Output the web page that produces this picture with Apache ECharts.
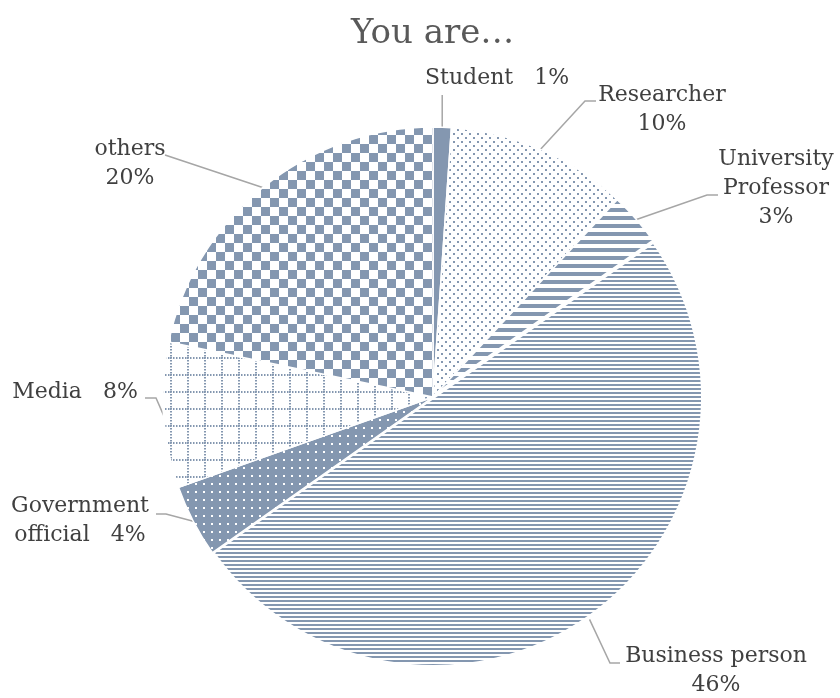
<!DOCTYPE html>
<html>
<head>
<meta charset="utf-8">
<script src="https://cdn.jsdelivr.net/npm/echarts@6/dist/echarts.min.js"></script>
<style>
  html, body { margin: 0; padding: 0; background: #fff; }
  #chart { width: 840px; height: 698px; }
</style>
</head>
<body>
<div id="chart"></div>
<script>
// ---- data ----
const titleText = 'You are…';
const categories = ['Student', 'Researcher', 'University Professor', 'Business person', 'Government official', 'Media', 'others'];
const values = [1, 10, 3, 46, 4, 8, 20];

// ---- label text layout (how each label breaks) ----
const labelNames = ['Student', 'Researcher', 'University\nProfessor', 'Business person', 'Government\nofficial', 'Media', 'others'];
const labelSeps = ['   ', '\n', '\n', '\n', '   ', '   ', '\n'];

// ---- label placement (centre of label block, end of leader line) ----
const labelSpots = [
  { x: 497, y: 78,  end: [null, 95], elbow: 0 },
  { x: 662, y: 110, end: [596, 101], elbow: -11 },
  { x: 776, y: 188, end: [718, 195], elbow: -11 },
  { x: 716, y: 671, end: [620, 663], elbow: -10 },
  { x: 80,  y: 521, end: [156, 514], elbow: 10 },
  { x: 75,  y: 392, end: [145, 398], elbow: 11 },
  { x: 130, y: 164, end: [165, 155], elbow: 0 }
];

const BASE = '#8497B0';
function makePattern(w, h, draw) {
  const c = document.createElement('canvas');
  c.width = w; c.height = h;
  const g = c.getContext('2d');
  draw(g, w, h);
  return { image: c, repeat: 'repeat' };
}
const fills = [
  BASE,
  // small sparse dots
  makePattern(8, 8, g => {
    g.fillStyle = '#fff'; g.fillRect(0, 0, 8, 8);
    g.fillStyle = BASE; g.fillRect(1, 1, 2, 2); g.fillRect(5, 5, 2, 2);
  }),
  // wide horizontal stripes
  makePattern(4, 8, g => {
    g.fillStyle = '#fff'; g.fillRect(0, 0, 4, 8);
    g.fillStyle = BASE; g.fillRect(0, 0, 4, 4);
  }),
  // narrow horizontal stripes
  makePattern(4, 4, g => {
    g.fillStyle = '#fff'; g.fillRect(0, 0, 4, 4);
    g.fillStyle = BASE; g.fillRect(0, 0, 4, 2);
  }),
  // solid with white dots
  makePattern(8, 8, g => {
    g.fillStyle = BASE; g.fillRect(0, 0, 8, 8);
    g.fillStyle = '#fff'; g.fillRect(3, 3, 2, 2);
  }),
  // dotted grid
  makePattern(17, 17, g => {
    g.fillStyle = '#fff'; g.fillRect(0, 0, 17, 17);
    g.fillStyle = BASE;
    for (let k = 0; k < 17; k += 3) {
      g.fillRect(0, k, 2, 1.5);
      g.fillRect(k, 0, 1.5, 2);
    }
  }),
  // checkerboard
  makePattern(18, 18, g => {
    g.fillStyle = '#fff'; g.fillRect(0, 0, 18, 18);
    g.fillStyle = BASE; g.fillRect(0, 0, 9, 9); g.fillRect(9, 9, 9, 9);
  })
];

const chart = echarts.init(document.getElementById('chart'), null, { renderer: 'canvas' });

const option = {
  animation: false,
  backgroundColor: '#fff',
  title: {
    text: titleText,
    left: 346,
    top: 12,
    textStyle: { fontFamily: 'DejaVu Serif', fontSize: 34, fontWeight: 'normal', color: '#595959' }
  },
  series: [{
    type: 'pie',
    center: [433, 397],
    radius: 270,
    startAngle: 90,
    clockwise: true,
    avoidLabelOverlap: false,
    minShowLabelAngle: 0,
    silent: true,
    emphasis: { disabled: true },
    itemStyle: { borderColor: '#fff', borderWidth: 1.5 },
    data: categories.map((n, i) => ({
      name: n,
      value: values[i],
      itemStyle: i === 3
        ? { color: fills[i], borderColor: '#fff', borderWidth: 4 }
        : { color: fills[i] }
    })),
    label: {
      show: true,
      position: 'outside',
      formatter: p => labelNames[p.dataIndex] + labelSeps[p.dataIndex] + p.value + '%',
      color: '#404040',
      fontFamily: 'DejaVu Serif',
      fontSize: 22,
      lineHeight: 29,
      align: 'center'
    },
    labelLine: {
      show: true,
      length: 10,
      length2: 10,
      lineStyle: { color: '#a6a6a6', width: 1.5 }
    },
    labelLayout: function (p) {
      const s = labelSpots[p.dataIndex];
      const start = p.labelLinePoints ? p.labelLinePoints[0] : [s.x, s.y];
      let pts;
      if (s.end[0] === null) {
        pts = [start, [start[0], s.end[1]]];
      } else if (s.elbow === 0) {
        pts = [start, s.end];
      } else {
        pts = [start, [s.end[0] + s.elbow, s.end[1]], s.end];
      }
      return { x: s.x, y: s.y, align: 'center', verticalAlign: 'middle', labelLinePoints: pts };
    }
  }]
};
chart.setOption(option);
</script>
</body>
</html>
